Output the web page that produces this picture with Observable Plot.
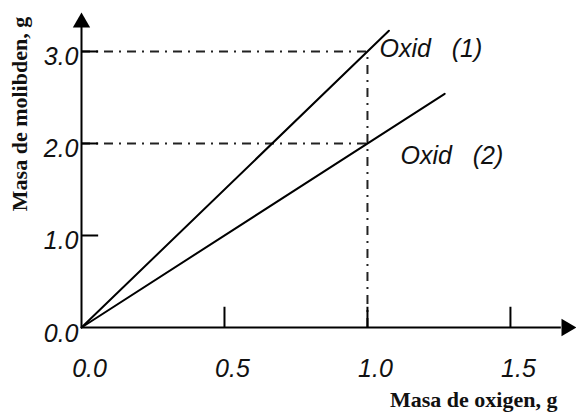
<!DOCTYPE html>
<html><head><meta charset="utf-8">
<script src="https://cdn.jsdelivr.net/npm/d3@7"></script>
<script src="https://cdn.jsdelivr.net/npm/@observablehq/plot@0.6"></script>
<style>
html,body{margin:0;padding:0;background:#fff;}
</style>
</head><body><div id="chart"></div>
<script>
// ---- data ----
const xTickValues = [0.5, 1.0, 1.5];
const yTickValues = [1.0, 2.0, 3.0];
const xLabelValues = [0.0, 0.5, 1.0, 1.5];
const xTickLabels = ["0.0", "0.5", "1.0", "1.5"];
const yLabelValues = [0.0, 1.0, 2.0, 3.0];
const yTickLabels = ["0.0", "1.0", "2.0", "3.0"];
const oxid1X = [0, 1.075];
const oxid1Y = [0, 3.225];
const oxid2X = [0, 1.27];
const oxid2Y = [0, 2.54];
const refOxygen = 1.0;
const refMolybdenum = [3.0, 2.0];
const seriesNames = ["Oxid\u00a0\u00a0\u00a0(1)", "Oxid\u00a0\u00a0\u00a0(2)"];
const xTitle = "Masa de oxigen, g";
const yTitle = "Masa de molibden, g";
const xAxisEnd = 1.678, xArrow = 1.696;
const yAxisEnd = 3.26, yArrow = 3.315;

const line1 = oxid1X.map((x, i) => ({x, y: oxid1Y[i]}));
const line2 = oxid2X.map((x, i) => ({x, y: oxid2Y[i]}));
const xLab = xLabelValues.map((v, i) => ({v, t: xTickLabels[i]}));
const yLab = yLabelValues.map((v, i) => ({v, t: yTickLabels[i]}));
const dashDot = "9,6,2,6";
const sans = "'Liberation Sans', Arial, sans-serif";
const serif = "'Liberation Serif', 'Times New Roman', serif";

const chart = Plot.plot({
  width: 576, height: 412,
  marginLeft: 81, marginRight: 0, marginTop: 0, marginBottom: 85,
  x: {domain: [0, 1.731], axis: null},
  y: {domain: [0, 3.554], axis: null},
  style: {background: "white", fontFamily: sans},
  marks: [
    // dash-dot reference lines
    Plot.ruleY(refMolybdenum, {x1: 0, x2: refOxygen, stroke: "#222", strokeWidth: 2, strokeDasharray: dashDot}),
    Plot.ruleX([refOxygen], {y1: 0, y2: refMolybdenum[0], stroke: "#222", strokeWidth: 2, strokeDasharray: dashDot}),
    // axes
    Plot.ruleY([0], {x1: 0, x2: xAxisEnd, stroke: "black", strokeWidth: 2}),
    Plot.ruleX([0], {y1: 0, y2: yAxisEnd, stroke: "black", strokeWidth: 2}),
    Plot.dot([{x: 0, y: yArrow}], {x: "x", y: "y", symbol: "triangle", r: 6.43, fill: "black", stroke: "none"}),
    Plot.dot([{x: xArrow, y: 0}], {x: "x", y: "y", symbol: "triangle", r: 6.43, fill: "black", stroke: "none", rotate: 90}),
    // ticks
    Plot.ruleY(yTickValues, {x1: 0, x2: 0.06, stroke: "black", strokeWidth: 2}),
    Plot.ruleX(xTickValues, {y1: 0, y2: 0.22, stroke: "black", strokeWidth: 2}),
    // tick labels
    Plot.text(yLab, {y: "v", text: "t", frameAnchor: "left", textAnchor: "end", dx: -3, dy: 6,
      fontSize: 25, fontStyle: "italic", fill: "#111"}),
    Plot.text(xLab, {x: "v", text: "t", frameAnchor: "bottom", lineAnchor: "middle", dx: 8, dy: 41,
      fontSize: 25, fontStyle: "italic", fill: "#111"}),
    // lines
    Plot.line(line1, {x: "x", y: "y", stroke: "black", strokeWidth: 2}),
    Plot.line(line2, {x: "x", y: "y", stroke: "black", strokeWidth: 2}),
    // series labels
    Plot.text([{x: refOxygen, y: refMolybdenum[0], t: seriesNames[0]}], {x: "x", y: "y", text: "t",
      textAnchor: "start", dx: 12, dy: -2, fontSize: 25, fontStyle: "italic", fill: "#111"}),
    Plot.text([{x: refOxygen, y: refMolybdenum[1], t: seriesNames[1]}], {x: "x", y: "y", text: "t",
      textAnchor: "start", dx: 33, dy: 13, fontSize: 25, fontStyle: "italic", fill: "#111"}),
    // axis titles
    Plot.text([xTitle], {frameAnchor: "bottom-right", textAnchor: "end", lineAnchor: "middle", dx: -19, dy: 72,
      fontFamily: serif, fontWeight: "bold", fontSize: 22, fill: "#111"}),
    Plot.text([yTitle], {frameAnchor: "left", textAnchor: "middle", lineAnchor: "middle", rotate: -90, dx: -62, dy: -50,
      fontFamily: serif, fontWeight: "bold", fontSize: 22, fill: "#111"})
  ]
});
document.getElementById("chart").appendChild(chart);
</script>
</body></html>
